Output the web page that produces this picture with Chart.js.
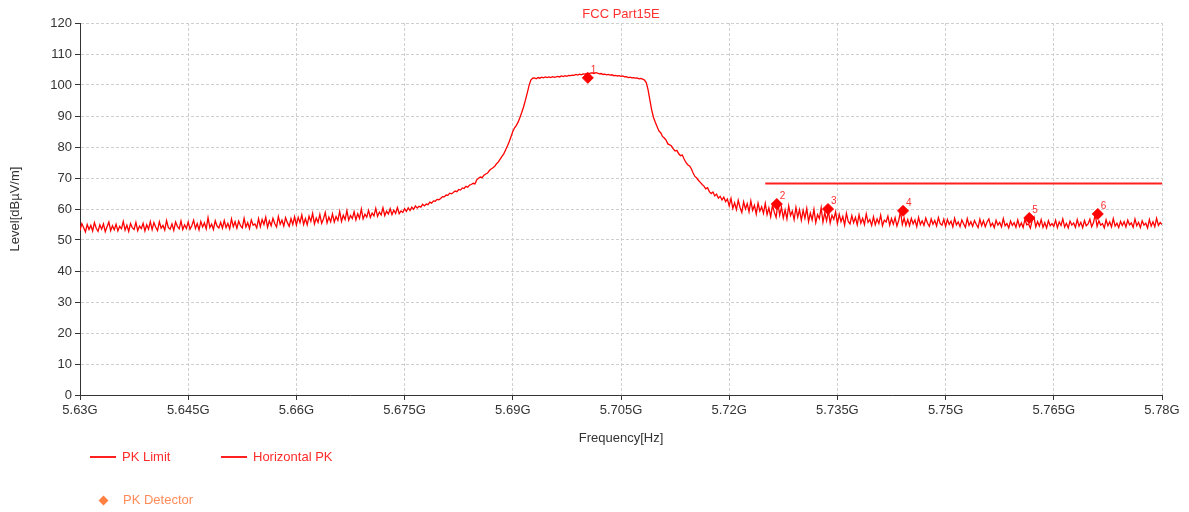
<!DOCTYPE html>
<html>
<head>
<meta charset="utf-8">
<script src="https://cdn.jsdelivr.net/npm/chart.js@4.4.0/dist/chart.umd.min.js"></script>
<style>
    body { margin: 0; background: #fff; font-family: "Liberation Sans", Arial, sans-serif; }
    #wrap { position: relative; width: 1189px; height: 512px; }
    .lg { position: absolute; font-size: 13px; line-height: 16px; white-space: nowrap; }
    .ln { position: absolute; height: 2px; background: #ff2020; }
    .dm { position: absolute; width: 7px; height: 7px; background: #ff8040; transform: rotate(45deg); }
</style>
</head>
<body>
<div id="wrap">
    <canvas id="specChart" width="1189" height="512"></canvas>
    <div class="ln" style="left:90px;top:456px;width:26px"></div>
    <div class="lg" style="left:122px;top:449px;color:#ff2a2a">PK Limit</div>
    <div class="ln" style="left:221px;top:456px;width:26px"></div>
    <div class="lg" style="left:253px;top:449px;color:#ff2a2a">Horizontal PK</div>
    <div class="dm" style="left:100px;top:497px"></div>
    <div class="lg" style="left:123px;top:492px;color:#ff8c5a">PK Detector</div>
</div>
<script>
    // sweep: 5.63G .. 5.78G, 0.25 MHz per point (one row = 5 MHz)
    const startGHz = 5.63;
    const stepGHz = 0.00025;
    const traceLevels = [
        53.1, 55.3, 54.0, 52.6, 55.0, 53.4, 54.7, 52.9, 55.6, 53.8, 52.8, 54.9, 53.5, 55.2, 52.7, 54.3, 55.8, 53.0, 54.6, 53.3,
        55.1, 52.9, 54.4, 53.6, 56.0, 53.2, 54.8, 52.8, 55.3, 54.0, 53.4, 55.7, 53.0, 54.5, 53.7, 55.4, 52.9, 54.9, 53.5, 55.9,
        53.3, 55.6, 54.1, 53.0, 55.9, 53.8, 54.7, 53.2, 56.3, 54.0, 53.5, 55.2, 53.1, 55.8, 54.4, 53.6, 56.1, 53.4, 54.9, 53.7,
        55.8, 53.5, 54.6, 56.4, 53.7, 55.3, 53.3, 56.0, 54.2, 55.5, 53.6, 57.2, 54.0, 55.1, 53.4, 56.2, 54.5, 53.9, 55.7, 53.8,
        56.3, 54.0, 55.4, 53.6, 56.8, 54.3, 55.9, 53.8, 56.1, 54.6, 53.9, 57.0, 54.2, 55.6, 53.7, 56.5, 54.8, 55.2, 53.9, 56.9,
        54.3, 56.6, 55.0, 57.4, 54.1, 56.2, 54.6, 57.0, 55.3, 54.2, 57.6, 55.1, 56.4, 54.5, 57.2, 55.6, 54.4, 56.9, 55.0, 57.5,
        54.8, 57.3, 55.6, 58.1, 55.0, 56.9, 54.9, 57.7, 56.0, 58.6, 55.2, 57.1, 55.7, 58.3, 55.4, 56.8, 58.9, 55.5, 57.4, 55.9,
        58.4, 55.8, 57.6, 56.3, 59.2, 56.0, 58.0, 56.6, 59.5, 56.4, 57.9, 56.9, 59.1, 56.5, 58.5, 57.0, 60.0, 56.8, 58.3, 57.4,
        59.6, 57.3, 58.7, 57.8, 60.2, 57.6, 59.0, 58.1, 60.4, 57.9, 59.3, 58.4, 60.1, 58.2, 59.6, 58.6, 60.5, 58.5, 59.4, 58.9,
        60.1, 59.2, 60.4, 59.5, 60.6, 59.9, 61.0, 60.3, 60.9, 60.6, 61.5, 61.0, 61.6, 61.4, 62.2, 61.9, 62.6, 62.5, 63.1, 63.0,
        63.4, 64.0, 63.9, 64.5, 64.4, 65.1, 64.9, 65.3, 65.8, 65.6, 66.3, 66.1, 66.8, 66.6, 67.3, 67.0, 67.7, 67.9, 68.3, 68.1,
        69.4, 69.9, 70.3, 70.1, 70.9, 71.3, 71.6, 72.4, 72.9, 73.3, 73.8, 74.6, 75.2, 76.1, 77.0, 77.8, 79.0, 80.3, 81.7, 83.3,
        85.0, 86.2, 87.0, 88.1, 89.6, 91.2, 93.0, 95.1, 97.4, 99.8, 101.6, 102.2, 102.3, 102.0, 102.4, 102.2, 102.5, 102.3, 102.6, 102.4,
        102.6, 102.4, 102.7, 102.5, 102.6, 102.8, 102.6, 102.9, 102.7, 103.0, 102.8, 103.1, 103.0, 103.2, 103.1, 103.4, 103.2, 103.5, 103.3, 103.6,
        103.5, 103.7, 103.6, 103.8, 103.9, 103.7, 104.0, 103.8, 103.6, 103.7, 103.4, 103.5, 103.3, 103.4, 103.2, 103.3, 103.0, 103.1, 102.9, 103.0,
        102.8, 102.9, 102.6, 102.7, 102.4, 102.5, 102.3, 102.4, 102.2, 102.3, 102.0, 102.1, 101.9, 101.6, 100.8, 98.5, 95.2, 92.0, 89.6, 88.0,
        86.6, 85.2, 84.6, 83.4, 82.9, 82.2, 81.0, 80.7, 80.3, 79.4, 78.7, 78.9, 77.8, 77.2, 77.4, 76.1, 75.0, 74.3, 73.9, 73.0,
        71.6, 70.5, 70.0, 69.2, 68.6, 67.9, 67.4, 66.5, 66.9, 65.6, 65.0, 65.5, 64.2, 64.8, 63.5, 64.1, 62.9, 63.8, 62.4, 63.2,
        61.0, 63.4, 60.2, 62.0, 59.8, 62.8, 60.5, 58.9, 62.3, 60.0, 61.7, 59.1, 62.6, 59.6, 61.2, 58.4, 61.9, 59.3, 60.7, 58.6,
        61.8, 58.2, 60.4, 57.5, 61.2, 59.0, 57.3, 61.9, 58.0, 60.6, 57.1, 59.7, 56.8, 61.0, 57.9, 59.3, 56.6, 60.5, 57.4, 59.8,
        56.4, 59.6, 57.0, 60.2, 55.9, 58.7, 56.5, 59.9, 55.6, 58.2, 56.9, 60.4, 55.8, 58.8, 56.2, 59.4, 55.5, 58.0, 56.7, 59.1,
        55.3, 58.3, 55.9, 57.6, 54.8, 58.6, 56.0, 55.2, 57.9, 55.6, 57.3, 54.9, 58.1, 55.4, 57.0, 55.0, 58.4, 55.7, 56.6, 54.7,
        57.5, 54.9, 56.8, 55.3, 58.0, 54.6, 56.4, 55.8, 57.7, 54.8, 56.9, 55.1, 57.2, 54.5, 56.3, 59.2, 55.0, 57.1, 54.7, 56.6,
        54.6, 57.0, 55.2, 56.5, 54.3, 57.3, 55.0, 56.2, 54.7, 57.1, 55.4, 54.4, 56.8, 55.1, 56.3, 54.5, 57.2, 55.3, 54.8, 56.7,
        54.4, 56.6, 55.0, 56.1, 54.2, 57.0, 54.9, 55.8, 54.3, 56.5, 55.2, 54.1, 56.9, 54.7, 55.9, 54.4, 56.3, 55.1, 54.0, 56.7,
        54.6, 56.2, 54.3, 55.8, 56.8, 54.5, 55.4, 54.0, 56.4, 54.8, 55.7, 54.2, 56.9, 54.6, 55.3, 53.9, 56.1, 54.7, 55.6, 54.1,
        56.5, 54.3, 55.5, 54.0, 56.7, 54.9, 55.2, 53.8, 56.3, 57.4, 54.2, 55.9, 54.5, 56.6, 54.1, 55.6, 53.9, 56.2, 54.6, 55.3,
        54.4, 56.4, 54.0, 55.8, 54.7, 56.8, 54.2, 55.4, 53.9, 56.1, 54.8, 55.5, 54.1, 56.6, 54.5, 55.7, 54.0, 56.3, 54.6, 55.2,
        56.7, 54.3, 55.6, 58.2, 54.4, 56.2, 54.8, 55.3, 53.9, 56.5, 54.6, 55.8, 54.2, 56.9, 54.5, 55.4, 54.0, 56.0, 54.7, 55.9,
        54.2, 56.4, 54.9, 55.5, 54.1, 56.8, 54.6, 55.7, 54.0, 56.2, 54.8, 55.4, 53.9, 56.6, 54.5, 55.9, 54.3, 57.0, 54.7, 55.6,
        55.0
    ];

    const limitFreqs = [5.725, 5.78];
    const limitLevels = [68.2, 68.2];

    const markerFreqs = [5.7004, 5.7266, 5.7337, 5.7441, 5.7616, 5.7711];
    const markerLevels = [102.3, 61.6, 60.0, 59.4, 57.1, 58.4];
    const markerLabels = ['1', '2', '3', '4', '5', '6'];

    const traceData = traceLevels.map((v, i) => ({ x: startGHz + i * stepGHz, y: v }));
    const limitData = limitFreqs.map((f, i) => ({ x: f, y: limitLevels[i] }));
    const markerData = markerFreqs.map((f, i) => ({ x: f, y: markerLevels[i] }));

    const fontFamily = '"Liberation Sans", Arial, sans-serif';

    // title + marker numbers drawn on the canvas
    const extras = {
        id: 'extras',
        afterDatasetsDraw(chart) {
            const ctx = chart.ctx;
            const meta = chart.getDatasetMeta(2);
            ctx.save();
            ctx.fillStyle = '#ff3030';
            ctx.font = '10px ' + fontFamily;
            ctx.textAlign = 'left';
            ctx.textBaseline = 'middle';
            meta.data.forEach((pt, i) => {
                ctx.fillText(markerLabels[i], pt.x + 3, pt.y - 8);
            });
            ctx.restore();
        },
        afterDraw(chart) {
            const ctx = chart.ctx;
            const area = chart.chartArea;
            ctx.save();
            ctx.fillStyle = '#ff3030';
            ctx.font = '13px ' + fontFamily;
            ctx.textAlign = 'center';
            ctx.textBaseline = 'middle';
            ctx.fillText('FCC Part15E', (area.left + area.right) / 2, 14);
            ctx.restore();
        }
    };

    const specChart = new Chart(document.getElementById('specChart').getContext('2d'), {
        type: 'line',
        data: {
            datasets: [{
                label: 'Horizontal PK',
                data: traceData,
                borderColor: '#ff0000',
                borderWidth: 1.3,
                pointRadius: 0,
                tension: 0,
                order: 3
            }, {
                label: 'PK Limit',
                data: limitData,
                borderColor: '#ff2020',
                borderWidth: 2,
                pointRadius: 0,
                order: 2
            }, {
                label: 'PK Detector',
                type: 'scatter',
                data: markerData,
                pointStyle: 'rectRot',
                pointRadius: 5.5,
                backgroundColor: '#ff0000',
                borderColor: '#ff0000',
                order: 1
            }]
        },
        options: {
            responsive: false,
            animation: false,
            layout: { padding: { top: 23, right: 27, bottom: 65, left: 0 } },
            plugins: {
                legend: { display: false },
                tooltip: { enabled: false }
            },
            scales: {
                x: {
                    type: 'linear',
                    min: 5.63,
                    max: 5.78,
                    afterFit(scale) { scale.height = 52; },
                    ticks: {
                        stepSize: 0.015,
                        color: '#333',
                        padding: 3,
                        maxRotation: 0,
                        font: { family: fontFamily, size: 13 },
                        callback: v => (+v.toFixed(3)) + 'G'
                    },
                    grid: { color: '#cfcfcf', tickColor: '#333', tickLength: 5 },
                    border: { color: '#333', width: 1, dash: [3, 2] },
                    title: {
                        display: true,
                        text: 'Frequency[Hz]',
                        color: '#333',
                        font: { family: fontFamily, size: 13 },
                        padding: { top: 0, bottom: 1 }
                    }
                },
                y: {
                    min: 0,
                    max: 120,
                    afterFit(scale) { scale.width = 80; },
                    ticks: {
                        stepSize: 10,
                        color: '#333',
                        padding: 3,
                        font: { family: fontFamily, size: 13 }
                    },
                    grid: { color: '#cfcfcf', tickColor: '#333', tickLength: 5 },
                    border: { color: '#333', width: 1, dash: [3, 2] },
                    title: {
                        display: true,
                        text: 'Level[dBµV/m]',
                        color: '#333',
                        font: { family: fontFamily, size: 13 },
                        padding: { top: 8, bottom: 0 }
                    }
                }
            }
        },
        plugins: [extras]
    });
</script>
</body>
</html>
